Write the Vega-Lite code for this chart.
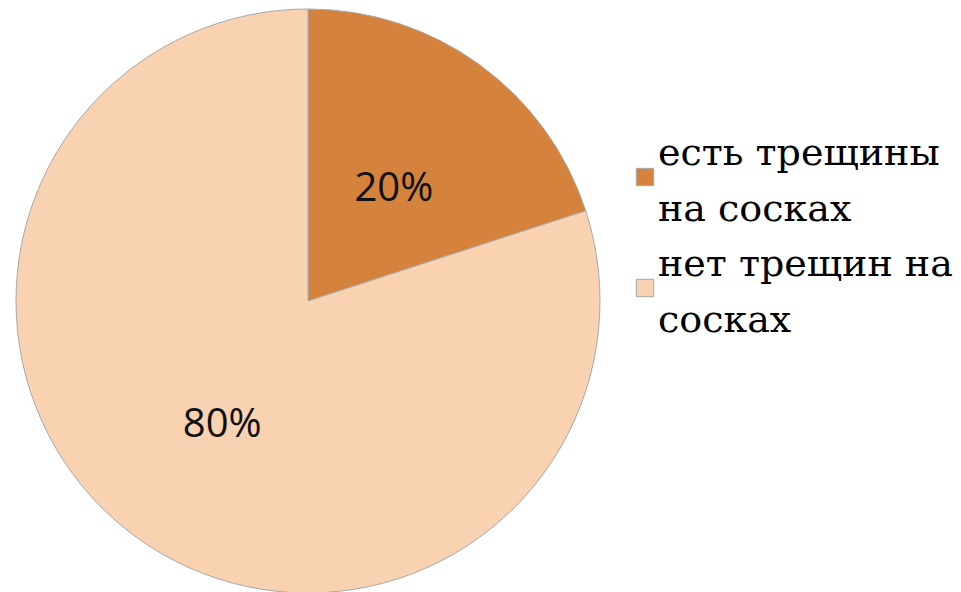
{
  "$schema": "https://vega.github.io/schema/vega-lite/v6.json",
  "width": 616,
  "height": 602,
  "autosize": {"type": "none"},
  "padding": {"left": 0, "top": 0, "right": 345, "bottom": 0},
  "background": "white",
  "config": {"view": {"stroke": null}},
  "data": {
    "values": [
      {"category": "есть трещины на сосках", "value": 20, "label": "20%"},
      {"category": "нет трещин на сосках", "value": 80, "label": "80%"}
    ]
  },
  "encoding": {
    "theta": {"field": "value", "type": "quantitative", "stack": true},
    "order": {"field": "category", "sort": "ascending"},
    "color": {
      "field": "category",
      "type": "nominal",
      "scale": {"domain": ["есть трещины на сосках", "нет трещин на сосках"], "range": ["#D4823C", "#F9D2B1"]},
      "legend": {
        "title": null,
        "orient": "none",
        "legendX": 626,
        "legendY": 158,
        "padding": 0,
        "symbolType": "square",
        "symbolSize": 300,
        "symbolStrokeColor": "#A8A8A8",
        "symbolStrokeWidth": 1,
        "symbolOpacity": 1,
        "labelFont": "DejaVu Serif",
        "labelFontSize": 38,
        "labelColor": "#000000",
        "labelLimit": 0,
        "labelOffset": -6,
        "labelExpr": "datum.label == 'есть трещины на сосках' ? ['есть трещины', 'на сосках'] : ['нет трещин на', 'сосках']",
        "rowPadding": 17,
        "encode": {
          "labels": {"update": {"lineHeight": {"value": 56}, "dy": {"value": -23}}}
        }
      }
    }
  },
  "layer": [
    {
      "mark": {"type": "arc", "radius": 292, "stroke": "#A8A8A8", "strokeWidth": 1}
    },
    {
      "mark": {"type": "text", "radius": 146, "font": "Open Sans", "fontSize": 40, "dy": 6},
      "encoding": {
        "text": {"field": "label"},
        "color": {"value": "#111111"}
      }
    }
  ]
}
